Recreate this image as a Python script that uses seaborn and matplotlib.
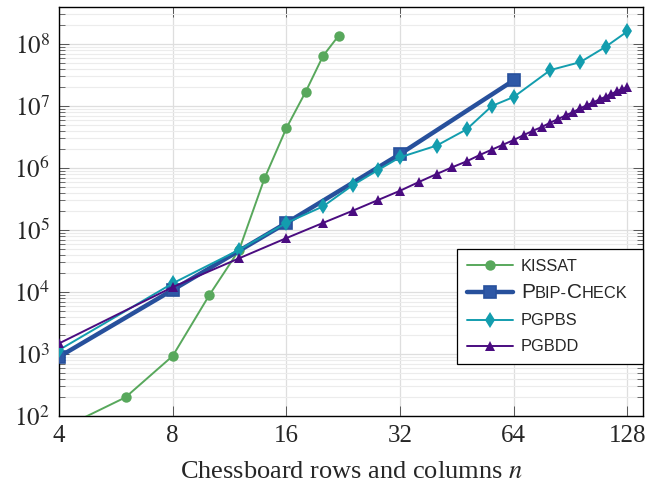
import matplotlib
matplotlib.use("Agg")
import matplotlib.pyplot as plt
import matplotlib.ticker as mticker
import seaborn as sns
import numpy as np

# ---- data ----
kissat_n = [4, 6, 8, 10, 12, 14, 16, 18, 20, 22]
kissat_v = [60, 200, 930, 8900, 48000, 6.8e5, 4.4e6, 1.7e7, 6.4e7, 1.36e8]

pbip_n = [4, 8, 16, 32, 64]
pbip_v = [900, 1.08e4, 1.3e5, 1.68e6, 2.6e7]

pgpbs_n = [4, 8, 12, 16, 20, 24, 28, 32, 40, 48, 56, 64, 80, 96, 112, 128]
pgpbs_v = [1160, 1.38e4, 4.8e4, 1.3e5, 2.4e5, 5.3e5, 9.3e5, 1.49e6, 2.3e6,
           4.2e6, 1.0e7, 1.4e7, 3.8e7, 5.1e7, 9.0e7, 1.6e8]

pgbdd_n = [4, 8, 12, 16, 20, 24, 28, 32, 36, 40, 44, 48, 52, 56, 60, 64,
           68, 72, 76, 80, 84, 88, 92, 96, 100, 104, 108, 112, 116, 120, 124, 128]
pgbdd_v = [1480, 1.2e4, 3.5e4, 7.4e4, 1.3e5, 2.05e5, 3.05e5, 4.3e5, 6.0e5, 8.0e5,
           1.03e6, 1.28e6, 1.62e6, 1.98e6, 2.38e6, 2.83e6, 3.4e6, 4.0e6, 4.6e6,
           5.4e6, 6.2e6, 7.1e6, 8.0e6, 9.2e6, 1.03e7, 1.15e7, 1.28e7, 1.41e7,
           1.56e7, 1.73e7, 1.88e7, 2.0e7]

x_ticks = [4, 8, 16, 32, 64, 128]
x_tick_labels = ["4", "8", "16", "32", "64", "128"]
y_exps = [2, 3, 4, 5, 6, 7, 8]

legend_labels = ["KISSAT", "PBIP-CHECK", "PGPBS", "PGBDD"]
# small-caps pieces for the second label: (text, is_capital)
pbip_pieces = [("P", True), ("BIP-", False), ("C", True), ("HECK", False)]

c_green = "#58a85c"
c_blue = "#27509c"
c_teal = "#139dae"
c_purple = "#4a0c80"

sns.set_theme(style="white")
plt.rcParams["mathtext.fontset"] = "stix"
plt.rcParams["font.family"] = ["Liberation Serif", "DejaVu Serif"]

DPI = 100
fig = plt.figure(figsize=(6.6, 4.87), dpi=DPI)
ax = fig.add_axes([59 / 660, 1 - 416 / 487, (643 - 59) / 660, (416 - 7) / 487])

sns.lineplot(x=kissat_n, y=kissat_v, ax=ax, color=c_green, lw=1.4, marker="o",
             markersize=7.5, markeredgewidth=0, label=legend_labels[0], zorder=3)
sns.lineplot(x=pbip_n, y=pbip_v, ax=ax, color=c_blue, lw=3.2, marker="s",
             markersize=9, markerfacecolor="#2e58a6", markeredgecolor=c_blue,
             markeredgewidth=1.2, label=legend_labels[1], zorder=4)
sns.lineplot(x=pgpbs_n, y=pgpbs_v, ax=ax, color=c_teal, lw=1.4, marker="d",
             markersize=8, markeredgewidth=0, label=legend_labels[2], zorder=5)
sns.lineplot(x=pgbdd_n, y=pgbdd_v, ax=ax, color=c_purple, lw=1.4, marker="^",
             markersize=7.5, markeredgewidth=0, label=legend_labels[3], zorder=6)

ax.set_xscale("log", base=2)
ax.set_yscale("log")
ax.set_xlim(4, 140.7)
ax.set_ylim(100, 3.95e8)

ax.xaxis.set_major_locator(mticker.FixedLocator(x_ticks))
ax.xaxis.set_major_formatter(mticker.FixedFormatter(x_tick_labels))
ax.xaxis.set_minor_locator(mticker.NullLocator())
ax.yaxis.set_major_locator(mticker.FixedLocator([10.0 ** e for e in y_exps]))
ax.yaxis.set_major_formatter(mticker.FixedFormatter(["$10^{%d}$" % e for e in y_exps]))
ax.yaxis.set_minor_locator(mticker.LogLocator(base=10, subs=np.arange(2, 10), numticks=20))
ax.yaxis.set_minor_formatter(mticker.NullFormatter())

ax.tick_params(which="both", direction="in", top=True, right=True,
               bottom=True, left=True, color="#555555")
ax.tick_params(which="major", length=7, width=0.7, pad=6.5, labelsize=18)
ax.tick_params(which="minor", length=4, width=0.6)

ax.grid(which="major", axis="both", color="#dedede", lw=0.9)
ax.grid(which="minor", axis="y", color="#ececec", lw=0.8)
ax.set_axisbelow(True)
for s in ax.spines.values():
    s.set_color("black")
    s.set_linewidth(1.0)

ax.set_xlabel("Chessboard rows and columns $n$", fontsize=19, labelpad=10)
ax.set_ylabel("")

SMALL, BIG, PH = 11.8, 15, 13.2
leg = ax.legend(loc="upper right", bbox_to_anchor=(1.0, 0.408), borderaxespad=0,
                frameon=True, fancybox=False, framealpha=1, edgecolor="black",
                prop={"family": "Liberation Sans", "size": SMALL},
                handlelength=2.8, handletextpad=0.5, labelspacing=0.68,
                borderpad=0.6)
leg.get_frame().set_linewidth(0.9)
leg.set_zorder(10)
texts = leg.get_texts()
placeholder = texts[1]
placeholder.set_fontsize(PH)
placeholder.set_alpha(0)

# compose the small-caps label over the invisible placeholder
fig.canvas.draw()
bb = placeholder.get_window_extent()
baseline = bb.y0 + 0.212 * PH * DPI / 72
x = bb.x0
for s, cap in pbip_pieces:
    t = fig.text(x / fig.bbox.width, baseline / fig.bbox.height, s,
                 fontsize=BIG if cap else SMALL, family="Liberation Sans",
                 ha="left", va="baseline", zorder=11)
    fig.canvas.draw()
    x = t.get_window_extent().x1

fig.savefig("out.png", dpi=DPI)
